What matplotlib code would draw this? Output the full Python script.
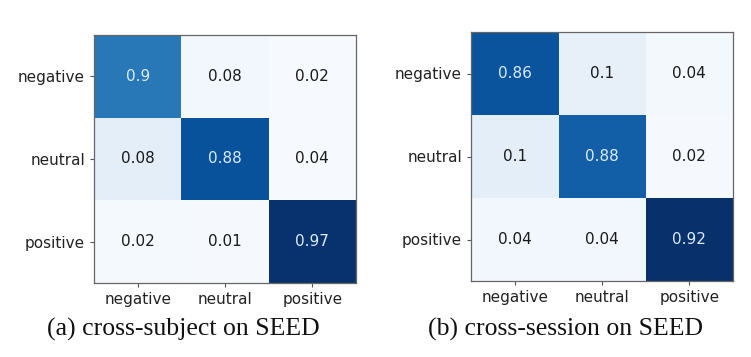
import numpy as np
import matplotlib
matplotlib.use("Agg")
import matplotlib.pyplot as plt

plt.rcParams["font.family"] = ["DejaVu Sans"]

labels = ["negative", "neutral", "positive"]

# displayed values
cm_subject = [[0.90, 0.08, 0.02],
              [0.08, 0.88, 0.04],
              [0.02, 0.01, 0.97]]
cm_session = [[0.86, 0.10, 0.04],
              [0.10, 0.88, 0.02],
              [0.04, 0.04, 0.92]]

# cell shading intensity (Blues colormap 0..1)
shade_subject = [[0.72, 0.03, 0.005],
                 [0.10, 0.87, 0.005],
                 [0.015, 0.01, 0.99]]
shade_session = [[0.86, 0.08, 0.02],
                 [0.10, 0.82, 0.01],
                 [0.03, 0.025, 1.00]]

captions = ["(a) cross-subject on SEED", "(b) cross-session on SEED"]

fig = plt.figure(figsize=(7.51, 3.57), dpi=100)
rects = [[94/751, 1-283/357, 262/751, 248/357],
         [471/751, 1-281/357, 262/751, 249/357]]
cap_x = [183/751, 565/751]

for rect, cm, shade, cap, cx in zip(rects, [cm_subject, cm_session],
                                    [shade_subject, shade_session], captions, cap_x):
    ax = fig.add_axes(rect)
    ax.imshow(np.array(shade), cmap="Blues", vmin=0, vmax=1, aspect="auto",
              interpolation="nearest")
    cmv = np.array(cm)
    sh = np.array(shade)
    for i in range(3):
        for j in range(3):
            col = "#dcebf8" if sh[i, j] > 0.5 else "#1a1a1a"
            ax.text(j, i, f"{cmv[i, j]:g}", ha="center", va="center",
                    fontsize=11, color=col)
    ax.set_xticks(range(3))
    ax.set_yticks(range(3))
    ax.set_xticklabels(labels, fontsize=11)
    ax.set_yticklabels(labels, fontsize=11)
    ax.tick_params(length=3, width=0.8, colors="#555555", labelcolor="#222222")
    for s in ax.spines.values():
        s.set_color("#666666")
        s.set_linewidth(0.9)
    fig.text(cx, 1-329/357, cap, ha="center", va="center",
             fontsize=18.5, family="Liberation Serif", color="#111111")

fig.savefig("out.png", dpi=100)
